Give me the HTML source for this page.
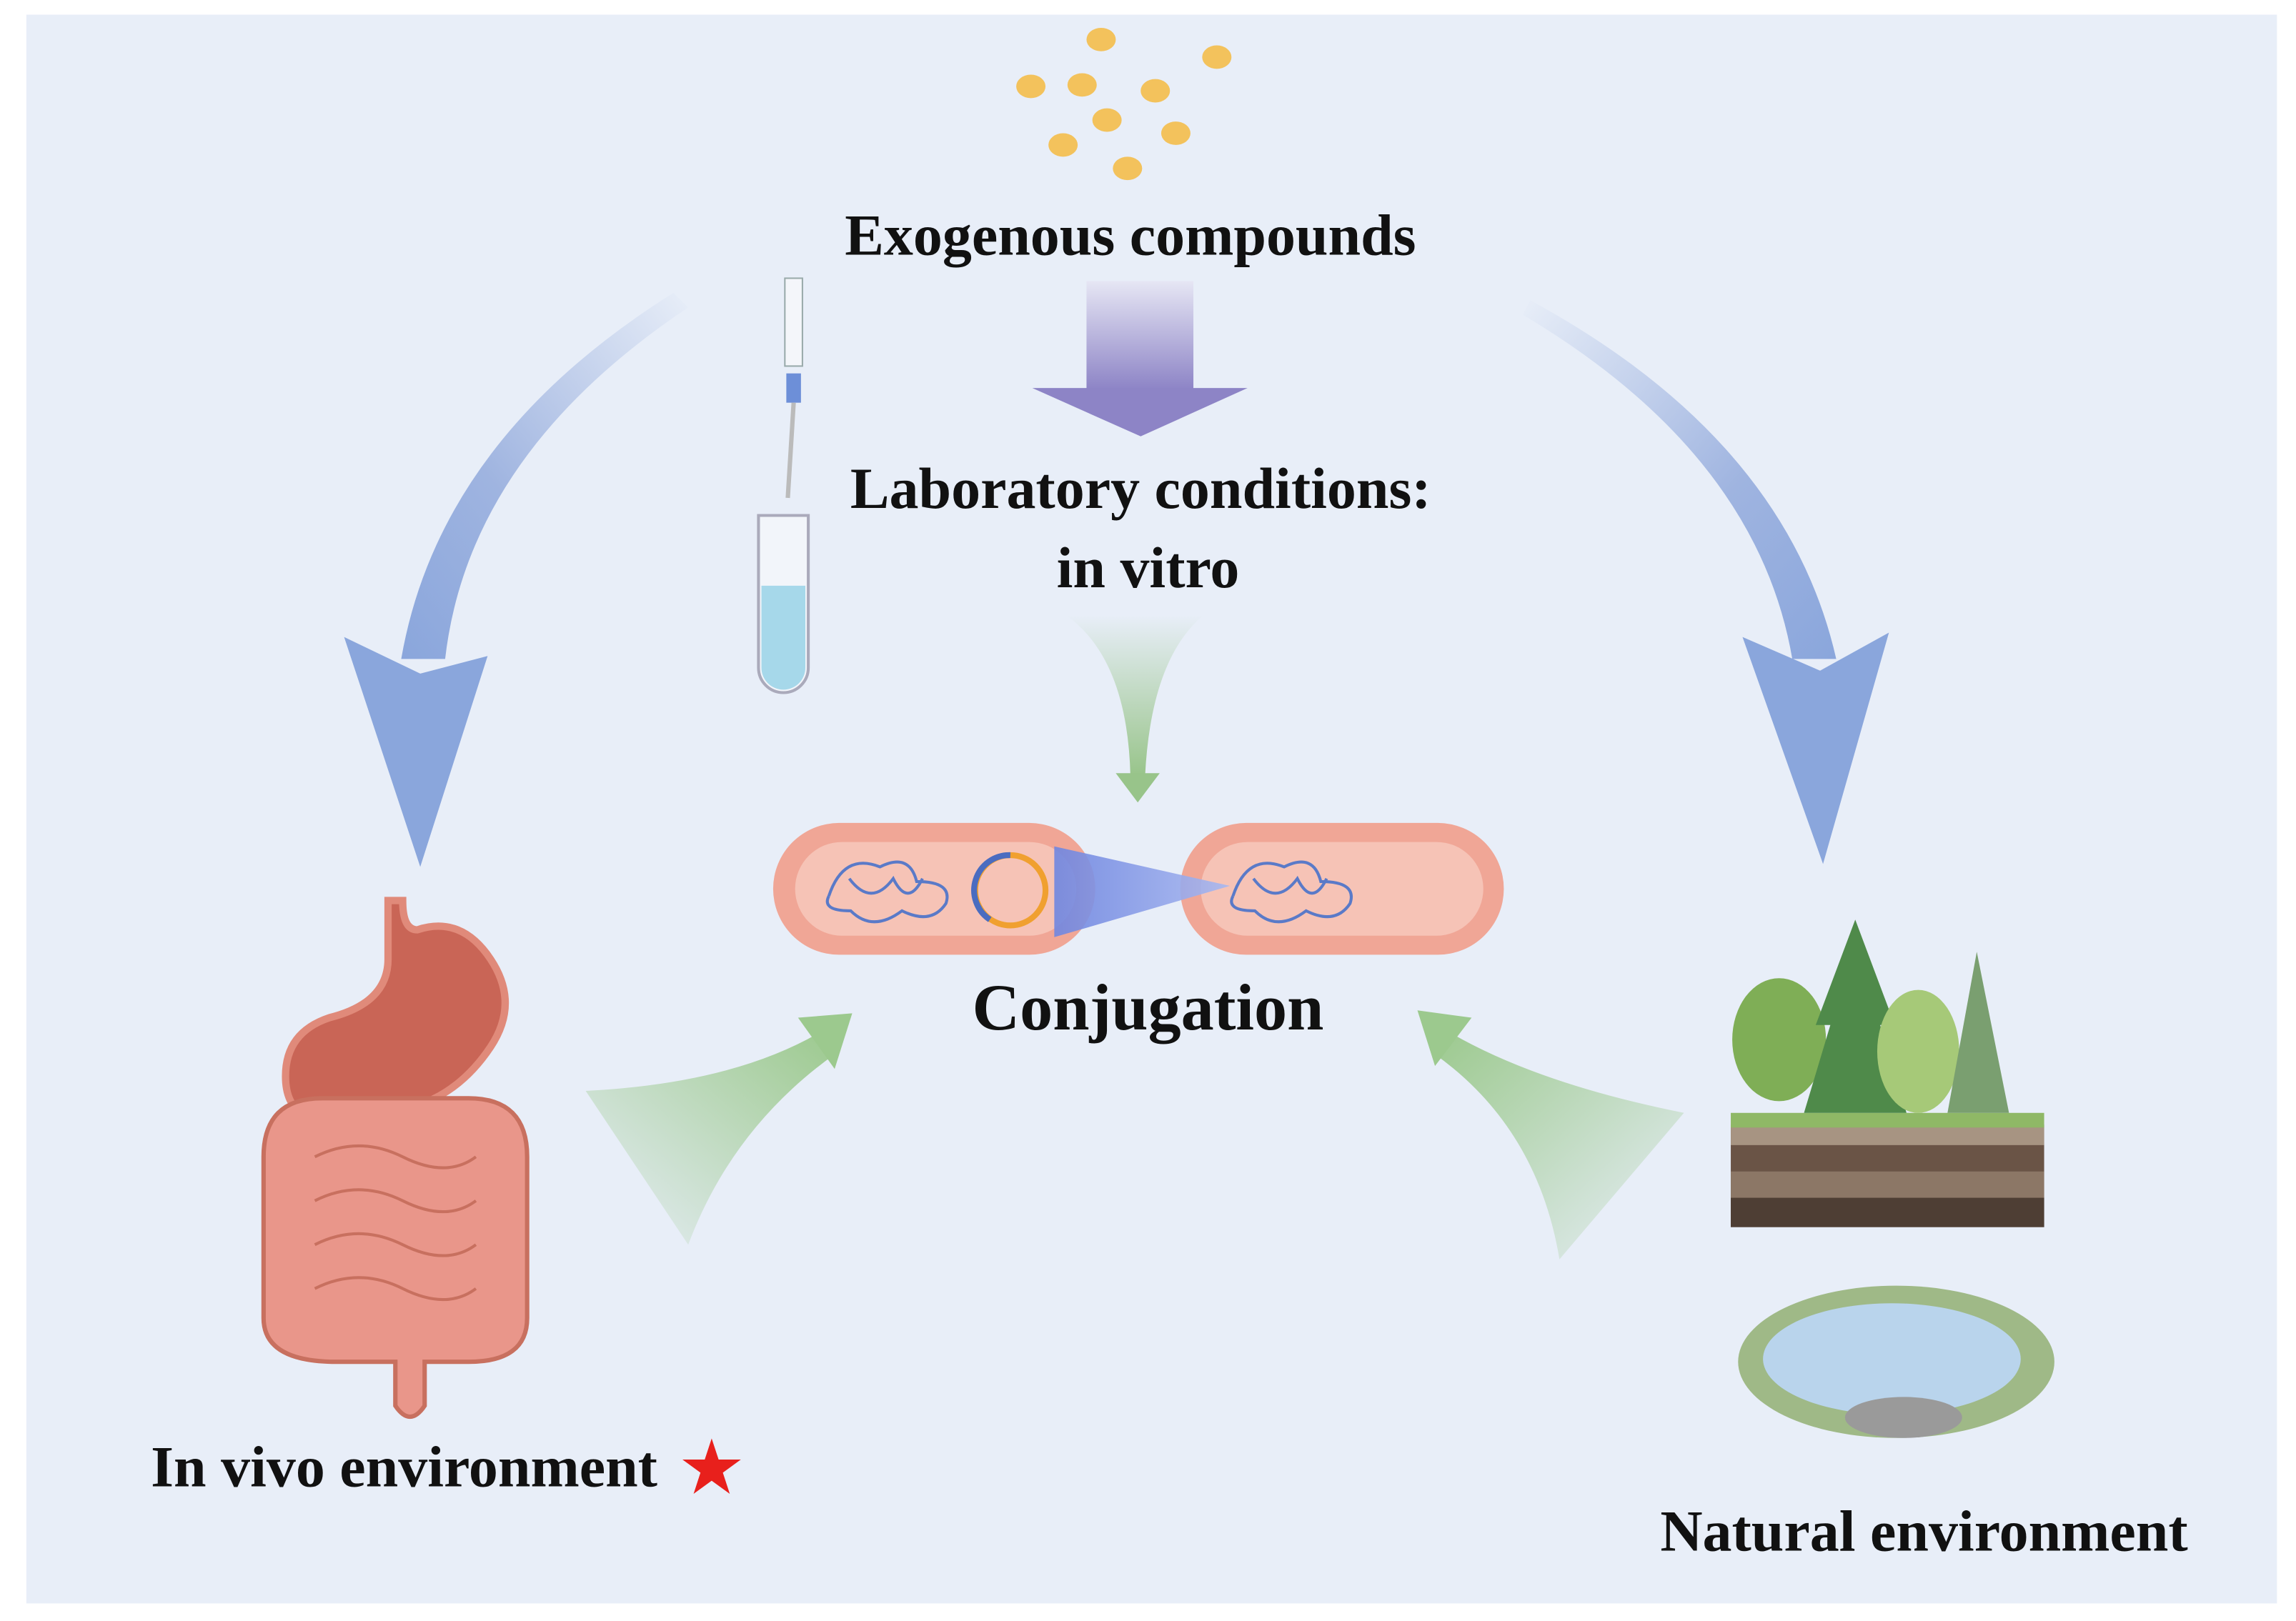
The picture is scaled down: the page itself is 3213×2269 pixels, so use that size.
<!DOCTYPE html>
<html><head><meta charset="utf-8"><style>html,body{margin:0;padding:0;background:#fff}svg{display:block}</style></head>
<body>
<svg width="3213" height="2269" viewBox="0 0 1568 1107" preserveAspectRatio="none" xmlns="http://www.w3.org/2000/svg">
<defs>
<linearGradient id="pg" x1="0" y1="0" x2="0" y2="1"><stop offset="0" stop-color="#e6e6f4"/><stop offset="1" stop-color="#8d84c6"/></linearGradient>
<linearGradient id="bgL" x1="1" y1="0" x2="0" y2="1"><stop offset="0" stop-color="#e8eef8"/><stop offset="0.6" stop-color="#9fb4e0"/><stop offset="1" stop-color="#8aa6dc"/></linearGradient>
<linearGradient id="bgR" x1="0" y1="0" x2="1" y2="1"><stop offset="0" stop-color="#e8eef8"/><stop offset="0.6" stop-color="#9fb4e0"/><stop offset="1" stop-color="#8aa6dc"/></linearGradient>
<linearGradient id="gg" x1="0" y1="0" x2="0" y2="1"><stop offset="0" stop-color="#e8eef8"/><stop offset="1" stop-color="#98c48a"/></linearGradient>
<linearGradient id="ggL" x1="0" y1="1" x2="1" y2="0"><stop offset="0" stop-color="#e8eef8"/><stop offset="1" stop-color="#9cc98e"/></linearGradient>
<linearGradient id="ggR" x1="1" y1="1" x2="0" y2="0"><stop offset="0" stop-color="#e8eef8"/><stop offset="1" stop-color="#9cc98e"/></linearGradient>
<linearGradient id="ba" x1="0" y1="0" x2="1" y2="0"><stop offset="0" stop-color="#6f86e0"/><stop offset="1" stop-color="#a8b8f0"/></linearGradient>
</defs>
<rect x="18" y="10" width="1537" height="1085" fill="#e8eef8"/>
<g fill="#f3c25c">
<ellipse cx="752" cy="27" rx="10" ry="8"/><ellipse cx="831" cy="39" rx="10" ry="8"/><ellipse cx="704" cy="59" rx="10" ry="8"/><ellipse cx="739" cy="58" rx="10" ry="8"/><ellipse cx="789" cy="62" rx="10" ry="8"/><ellipse cx="756" cy="82" rx="10" ry="8"/><ellipse cx="803" cy="91" rx="10" ry="8"/><ellipse cx="726" cy="99" rx="10" ry="8"/><ellipse cx="770" cy="115" rx="10" ry="8"/>
</g>
<g font-family="Liberation Serif, serif" font-weight="bold" fill="#111" text-anchor="middle">
<text x="772" y="174" font-size="40">Exogenous compounds</text>
<text x="779" y="347" font-size="40">Laboratory conditions:</text>
<text x="784" y="401" font-size="40">in vitro</text>
<text x="784" y="703" font-size="45">Conjugation</text>
<text x="1314" y="1059" font-size="40">Natural environment</text>
<text x="276" y="1015" font-size="40">In vivo environment</text>
</g>
<text x="486" y="1020" font-size="52" fill="#e8201c" text-anchor="middle" font-family="DejaVu Sans, sans-serif">★</text>
<rect x="742" y="192" width="73" height="74" fill="url(#pg)"/>
<polygon points="705,265 852,265 779,298" fill="#8d84c6"/>
<path d="M460,200 Q300,300 274,450 L304,450 Q320,310 470,210 Z" fill="url(#bgL)"/>
<polygon points="235,435 287,460 333,448 287,592" fill="#8aa6dc"/>
<path d="M1045,205 Q1220,300 1254,450 L1224,450 Q1200,310 1040,215 Z" fill="url(#bgR)"/>
<polygon points="1190,435 1243,458 1290,432 1245,590" fill="#8aa6dc"/>
<path d="M728,420 Q770,450 772,530 L782,530 Q786,450 822,420 Z" fill="url(#gg)"/>
<polygon points="762,528 792,528 777,548" fill="#98c48a"/>
<path d="M400,745 Q500,740 560,705 L570,720 Q500,770 470,850 Z" fill="url(#ggL)"/>
<polygon points="545,695 582,692 570,730" fill="#9cc98e"/>
<path d="M1150,760 Q1050,740 990,705 L980,720 Q1050,770 1065,860 Z" fill="url(#ggR)"/>
<polygon points="1005,695 968,690 980,728" fill="#9cc98e"/>
<rect x="528" y="562" width="220" height="90" rx="45" fill="#f0a696"/>
<rect x="543" y="575" width="192" height="64" rx="32" fill="#f6c3b6"/>
<rect x="806" y="562" width="221" height="90" rx="45" fill="#f0a696"/>
<rect x="820" y="575" width="193" height="64" rx="32" fill="#f6c3b6"/>
<g fill="none" stroke="#5a7ac8" stroke-width="2">
<path d="M566,612 q10,-30 35,-20 q20,-10 25,10 q25,0 20,15 q-10,15 -30,5 q-20,15 -35,0 q-20,0 -15,-10 M580,600 q15,20 30,0 q10,20 20,0"/>
<path d="M842,612 q10,-30 35,-20 q20,-10 25,10 q25,0 20,15 q-10,15 -30,5 q-20,15 -35,0 q-20,0 -15,-10 M856,600 q15,20 30,0 q10,20 20,0"/>
</g>
<circle cx="690" cy="608" r="24" fill="none" stroke="#f0a030" stroke-width="4"/>
<path d="M690,584 A24,24 0 0 0 676,628" fill="none" stroke="#4a6cc0" stroke-width="4"/>
<polygon points="720,578 840,605 720,640" fill="url(#ba)" opacity="0.9"/>
<rect x="536" y="190" width="12" height="60" fill="#f4f6fa" stroke="#9aa" stroke-width="1"/>
<rect x="537" y="255" width="10" height="20" fill="#6d8fd8"/>
<line x1="542" y1="275" x2="538" y2="340" stroke="#bbb" stroke-width="3"/>
<path d="M518,352 h34 v104 a17,17 0 0 1 -34,0 Z" fill="#f2f5fa" stroke="#aab" stroke-width="2"/>
<path d="M520,400 h30 v56 a15,15 0 0 1 -30,0 Z" fill="#a6d8ea"/>
<path d="M265,615 v40 q0,30 -40,40 q-30,10 -30,40 q0,30 30,30 q40,0 60,-10 q30,-10 50,-40 q20,-30 0,-60 q-20,-30 -50,-20 q-10,0 -10,-20 Z" fill="#c96556" stroke="#e08a7a" stroke-width="5"/>
<path d="M180,790 q0,-40 40,-40 h100 q40,0 40,40 v110 q0,30 -40,30 h-30 v30 q-10,15 -20,0 v-30 h-40 q-50,0 -50,-30 Z" fill="#e9968a" stroke="#c8705f" stroke-width="3"/>
<g fill="none" stroke="#c8705f" stroke-width="2"><path d="M215,790 q30,-15 60,0 q30,15 50,0 M215,820 q30,-15 60,0 q30,15 50,0 M215,850 q30,-15 60,0 q30,15 50,0 M215,880 q30,-15 60,0 q30,15 50,0"/></g>
<rect x="1182" y="768" width="214" height="70" fill="#6a5446"/>
<rect x="1182" y="768" width="214" height="14" fill="#a79482"/>
<rect x="1182" y="800" width="214" height="18" fill="#8c7766"/>
<rect x="1182" y="818" width="214" height="20" fill="#4e3e34"/>
<rect x="1182" y="760" width="214" height="10" fill="#8fb866"/>
<ellipse cx="1215" cy="710" rx="32" ry="42" fill="#7fae56"/>
<polygon points="1267,628 1240,700 1250,700 1232,760 1302,760 1284,700 1294,700" fill="#4f8a4a"/>
<ellipse cx="1310" cy="718" rx="28" ry="42" fill="#a6c978"/>
<polygon points="1350,650 1330,760 1372,760" fill="#7a9f70"/>
<ellipse cx="1295" cy="930" rx="108" ry="52" fill="#9fb987"/>
<ellipse cx="1292" cy="928" rx="88" ry="38" fill="#b9d4ec"/>
<ellipse cx="1300" cy="968" rx="40" ry="14" fill="#9a9a9a"/>
</svg>
</body></html>
